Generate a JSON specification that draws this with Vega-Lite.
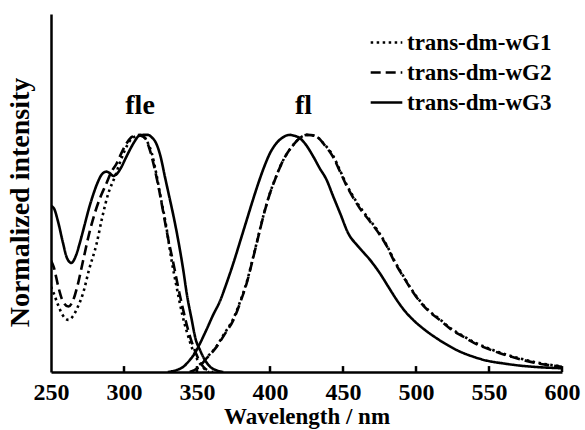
{
  "$schema": "https://vega.github.io/schema/vega-lite/v6.json",
  "width": 511,
  "height": 358,
  "autosize": "none",
  "padding": {"left": 51, "top": 14, "right": 23, "bottom": 58},
  "background": "white",
  "config": {
    "view": {"stroke": null},
    "font": "Liberation Serif",
    "axis": {"domainColor": "black", "domainWidth": 2.5, "tickColor": "black", "tickWidth": 2.5, "grid": false, "labelColor": "black", "titleColor": "black", "labelFont": "Liberation Serif", "titleFont": "Liberation Serif", "labelFontWeight": "bold", "titleFontWeight": "bold"}
  },
  "datasets": {
    "curves": [
      {"series": "trans-dm-wG1", "band": "fle", "wl": 250, "v": 0.36},
      {"series": "trans-dm-wG1", "band": "fle", "wl": 252, "v": 0.33},
      {"series": "trans-dm-wG1", "band": "fle", "wl": 255, "v": 0.28},
      {"series": "trans-dm-wG1", "band": "fle", "wl": 258, "v": 0.24},
      {"series": "trans-dm-wG1", "band": "fle", "wl": 262, "v": 0.22},
      {"series": "trans-dm-wG1", "band": "fle", "wl": 265, "v": 0.235},
      {"series": "trans-dm-wG1", "band": "fle", "wl": 268, "v": 0.27},
      {"series": "trans-dm-wG1", "band": "fle", "wl": 272, "v": 0.333},
      {"series": "trans-dm-wG1", "band": "fle", "wl": 276, "v": 0.43},
      {"series": "trans-dm-wG1", "band": "fle", "wl": 281.3, "v": 0.543},
      {"series": "trans-dm-wG1", "band": "fle", "wl": 285, "v": 0.65},
      {"series": "trans-dm-wG1", "band": "fle", "wl": 289.3, "v": 0.754},
      {"series": "trans-dm-wG1", "band": "fle", "wl": 293.8, "v": 0.824},
      {"series": "trans-dm-wG1", "band": "fle", "wl": 297, "v": 0.88},
      {"series": "trans-dm-wG1", "band": "fle", "wl": 300.7, "v": 0.937},
      {"series": "trans-dm-wG1", "band": "fle", "wl": 304, "v": 0.975},
      {"series": "trans-dm-wG1", "band": "fle", "wl": 307.5, "v": 0.993},
      {"series": "trans-dm-wG1", "band": "fle", "wl": 311, "v": 1.0},
      {"series": "trans-dm-wG1", "band": "fle", "wl": 313, "v": 0.995},
      {"series": "trans-dm-wG1", "band": "fle", "wl": 316, "v": 0.97},
      {"series": "trans-dm-wG1", "band": "fle", "wl": 319, "v": 0.923},
      {"series": "trans-dm-wG1", "band": "fle", "wl": 322, "v": 0.84},
      {"series": "trans-dm-wG1", "band": "fle", "wl": 325, "v": 0.74},
      {"series": "trans-dm-wG1", "band": "fle", "wl": 328.5, "v": 0.63},
      {"series": "trans-dm-wG1", "band": "fle", "wl": 332.6, "v": 0.47},
      {"series": "trans-dm-wG1", "band": "fle", "wl": 336, "v": 0.36},
      {"series": "trans-dm-wG1", "band": "fle", "wl": 340, "v": 0.24},
      {"series": "trans-dm-wG1", "band": "fle", "wl": 343.5, "v": 0.16},
      {"series": "trans-dm-wG1", "band": "fle", "wl": 347, "v": 0.095},
      {"series": "trans-dm-wG1", "band": "fle", "wl": 350.5, "v": 0.05},
      {"series": "trans-dm-wG1", "band": "fle", "wl": 354, "v": 0.02},
      {"series": "trans-dm-wG1", "band": "fle", "wl": 358, "v": 0.0},

      {"series": "trans-dm-wG1", "band": "fl", "wl": 346, "v": 0.0},
      {"series": "trans-dm-wG1", "band": "fl", "wl": 351, "v": 0.02},
      {"series": "trans-dm-wG1", "band": "fl", "wl": 356.6, "v": 0.06},
      {"series": "trans-dm-wG1", "band": "fl", "wl": 363.5, "v": 0.11},
      {"series": "trans-dm-wG1", "band": "fl", "wl": 369, "v": 0.165},
      {"series": "trans-dm-wG1", "band": "fl", "wl": 374.9, "v": 0.225},
      {"series": "trans-dm-wG1", "band": "fl", "wl": 380, "v": 0.305},
      {"series": "trans-dm-wG1", "band": "fl", "wl": 384, "v": 0.378},
      {"series": "trans-dm-wG1", "band": "fl", "wl": 388, "v": 0.473},
      {"series": "trans-dm-wG1", "band": "fl", "wl": 392, "v": 0.573},
      {"series": "trans-dm-wG1", "band": "fl", "wl": 396, "v": 0.672},
      {"series": "trans-dm-wG1", "band": "fl", "wl": 400, "v": 0.755},
      {"series": "trans-dm-wG1", "band": "fl", "wl": 404, "v": 0.822},
      {"series": "trans-dm-wG1", "band": "fl", "wl": 408, "v": 0.88},
      {"series": "trans-dm-wG1", "band": "fl", "wl": 412, "v": 0.925},
      {"series": "trans-dm-wG1", "band": "fl", "wl": 416, "v": 0.958},
      {"series": "trans-dm-wG1", "band": "fl", "wl": 420, "v": 0.985},
      {"series": "trans-dm-wG1", "band": "fl", "wl": 425, "v": 1.0},
      {"series": "trans-dm-wG1", "band": "fl", "wl": 428, "v": 0.999},
      {"series": "trans-dm-wG1", "band": "fl", "wl": 432, "v": 0.992},
      {"series": "trans-dm-wG1", "band": "fl", "wl": 437, "v": 0.962},
      {"series": "trans-dm-wG1", "band": "fl", "wl": 443.4, "v": 0.91},
      {"series": "trans-dm-wG1", "band": "fl", "wl": 448, "v": 0.85},
      {"series": "trans-dm-wG1", "band": "fl", "wl": 452.5, "v": 0.79},
      {"series": "trans-dm-wG1", "band": "fl", "wl": 457, "v": 0.74},
      {"series": "trans-dm-wG1", "band": "fl", "wl": 461.6, "v": 0.696},
      {"series": "trans-dm-wG1", "band": "fl", "wl": 468.5, "v": 0.64},
      {"series": "trans-dm-wG1", "band": "fl", "wl": 475.3, "v": 0.582},
      {"series": "trans-dm-wG1", "band": "fl", "wl": 479.9, "v": 0.535},
      {"series": "trans-dm-wG1", "band": "fl", "wl": 485, "v": 0.472},
      {"series": "trans-dm-wG1", "band": "fl", "wl": 491.3, "v": 0.405},
      {"series": "trans-dm-wG1", "band": "fl", "wl": 497, "v": 0.348},
      {"series": "trans-dm-wG1", "band": "fl", "wl": 502.7, "v": 0.3},
      {"series": "trans-dm-wG1", "band": "fl", "wl": 509, "v": 0.258},
      {"series": "trans-dm-wG1", "band": "fl", "wl": 516.4, "v": 0.222},
      {"series": "trans-dm-wG1", "band": "fl", "wl": 524, "v": 0.183},
      {"series": "trans-dm-wG1", "band": "fl", "wl": 532.4, "v": 0.152},
      {"series": "trans-dm-wG1", "band": "fl", "wl": 540, "v": 0.125},
      {"series": "trans-dm-wG1", "band": "fl", "wl": 548.4, "v": 0.103},
      {"series": "trans-dm-wG1", "band": "fl", "wl": 557, "v": 0.083},
      {"series": "trans-dm-wG1", "band": "fl", "wl": 566.6, "v": 0.065},
      {"series": "trans-dm-wG1", "band": "fl", "wl": 575, "v": 0.051},
      {"series": "trans-dm-wG1", "band": "fl", "wl": 582.7, "v": 0.04},
      {"series": "trans-dm-wG1", "band": "fl", "wl": 591, "v": 0.031},
      {"series": "trans-dm-wG1", "band": "fl", "wl": 600, "v": 0.024},

      {"series": "trans-dm-wG2", "band": "fle", "wl": 250, "v": 0.47},
      {"series": "trans-dm-wG2", "band": "fle", "wl": 252, "v": 0.44},
      {"series": "trans-dm-wG2", "band": "fle", "wl": 255, "v": 0.36},
      {"series": "trans-dm-wG2", "band": "fle", "wl": 258, "v": 0.3},
      {"series": "trans-dm-wG2", "band": "fle", "wl": 262, "v": 0.276},
      {"series": "trans-dm-wG2", "band": "fle", "wl": 265, "v": 0.3},
      {"series": "trans-dm-wG2", "band": "fle", "wl": 268, "v": 0.36},
      {"series": "trans-dm-wG2", "band": "fle", "wl": 272, "v": 0.47},
      {"series": "trans-dm-wG2", "band": "fle", "wl": 276, "v": 0.58},
      {"series": "trans-dm-wG2", "band": "fle", "wl": 280, "v": 0.67},
      {"series": "trans-dm-wG2", "band": "fle", "wl": 284, "v": 0.74},
      {"series": "trans-dm-wG2", "band": "fle", "wl": 288, "v": 0.796},
      {"series": "trans-dm-wG2", "band": "fle", "wl": 291, "v": 0.84},
      {"series": "trans-dm-wG2", "band": "fle", "wl": 295, "v": 0.88},
      {"series": "trans-dm-wG2", "band": "fle", "wl": 298, "v": 0.92},
      {"series": "trans-dm-wG2", "band": "fle", "wl": 301.8, "v": 0.965},
      {"series": "trans-dm-wG2", "band": "fle", "wl": 305, "v": 0.99},
      {"series": "trans-dm-wG2", "band": "fle", "wl": 308.7, "v": 1.0},
      {"series": "trans-dm-wG2", "band": "fle", "wl": 311, "v": 0.998},
      {"series": "trans-dm-wG2", "band": "fle", "wl": 314.4, "v": 0.987},
      {"series": "trans-dm-wG2", "band": "fle", "wl": 317, "v": 0.95},
      {"series": "trans-dm-wG2", "band": "fle", "wl": 321.2, "v": 0.852},
      {"series": "trans-dm-wG2", "band": "fle", "wl": 324, "v": 0.77},
      {"series": "trans-dm-wG2", "band": "fle", "wl": 327, "v": 0.67},
      {"series": "trans-dm-wG2", "band": "fle", "wl": 330, "v": 0.57},
      {"series": "trans-dm-wG2", "band": "fle", "wl": 333.8, "v": 0.459},
      {"series": "trans-dm-wG2", "band": "fle", "wl": 337, "v": 0.36},
      {"series": "trans-dm-wG2", "band": "fle", "wl": 340.6, "v": 0.26},
      {"series": "trans-dm-wG2", "band": "fle", "wl": 344, "v": 0.175},
      {"series": "trans-dm-wG2", "band": "fle", "wl": 347.5, "v": 0.107},
      {"series": "trans-dm-wG2", "band": "fle", "wl": 351, "v": 0.055},
      {"series": "trans-dm-wG2", "band": "fle", "wl": 354.3, "v": 0.022},
      {"series": "trans-dm-wG2", "band": "fle", "wl": 357, "v": 0.008},
      {"series": "trans-dm-wG2", "band": "fle", "wl": 361, "v": 0.0},

      {"series": "trans-dm-wG2", "band": "fl", "wl": 345, "v": 0.0},
      {"series": "trans-dm-wG2", "band": "fl", "wl": 350, "v": 0.015},
      {"series": "trans-dm-wG2", "band": "fl", "wl": 356.6, "v": 0.058},
      {"series": "trans-dm-wG2", "band": "fl", "wl": 363.5, "v": 0.107},
      {"series": "trans-dm-wG2", "band": "fl", "wl": 369, "v": 0.16},
      {"series": "trans-dm-wG2", "band": "fl", "wl": 374.9, "v": 0.219},
      {"series": "trans-dm-wG2", "band": "fl", "wl": 380, "v": 0.3},
      {"series": "trans-dm-wG2", "band": "fl", "wl": 384, "v": 0.374},
      {"series": "trans-dm-wG2", "band": "fl", "wl": 388, "v": 0.47},
      {"series": "trans-dm-wG2", "band": "fl", "wl": 392, "v": 0.571},
      {"series": "trans-dm-wG2", "band": "fl", "wl": 396, "v": 0.67},
      {"series": "trans-dm-wG2", "band": "fl", "wl": 400, "v": 0.754},
      {"series": "trans-dm-wG2", "band": "fl", "wl": 404, "v": 0.82},
      {"series": "trans-dm-wG2", "band": "fl", "wl": 408, "v": 0.88},
      {"series": "trans-dm-wG2", "band": "fl", "wl": 412, "v": 0.925},
      {"series": "trans-dm-wG2", "band": "fl", "wl": 416, "v": 0.958},
      {"series": "trans-dm-wG2", "band": "fl", "wl": 420, "v": 0.985},
      {"series": "trans-dm-wG2", "band": "fl", "wl": 425.1, "v": 1.0},
      {"series": "trans-dm-wG2", "band": "fl", "wl": 428, "v": 0.999},
      {"series": "trans-dm-wG2", "band": "fl", "wl": 432, "v": 0.993},
      {"series": "trans-dm-wG2", "band": "fl", "wl": 437, "v": 0.96},
      {"series": "trans-dm-wG2", "band": "fl", "wl": 443.4, "v": 0.905},
      {"series": "trans-dm-wG2", "band": "fl", "wl": 448, "v": 0.845},
      {"series": "trans-dm-wG2", "band": "fl", "wl": 452.5, "v": 0.785},
      {"series": "trans-dm-wG2", "band": "fl", "wl": 457, "v": 0.735},
      {"series": "trans-dm-wG2", "band": "fl", "wl": 461.6, "v": 0.69},
      {"series": "trans-dm-wG2", "band": "fl", "wl": 468.5, "v": 0.635},
      {"series": "trans-dm-wG2", "band": "fl", "wl": 475.3, "v": 0.578},
      {"series": "trans-dm-wG2", "band": "fl", "wl": 479.9, "v": 0.532},
      {"series": "trans-dm-wG2", "band": "fl", "wl": 485, "v": 0.468},
      {"series": "trans-dm-wG2", "band": "fl", "wl": 491.3, "v": 0.402},
      {"series": "trans-dm-wG2", "band": "fl", "wl": 497, "v": 0.345},
      {"series": "trans-dm-wG2", "band": "fl", "wl": 502.7, "v": 0.297},
      {"series": "trans-dm-wG2", "band": "fl", "wl": 509, "v": 0.255},
      {"series": "trans-dm-wG2", "band": "fl", "wl": 516.4, "v": 0.219},
      {"series": "trans-dm-wG2", "band": "fl", "wl": 524, "v": 0.18},
      {"series": "trans-dm-wG2", "band": "fl", "wl": 532.4, "v": 0.149},
      {"series": "trans-dm-wG2", "band": "fl", "wl": 540, "v": 0.122},
      {"series": "trans-dm-wG2", "band": "fl", "wl": 548.4, "v": 0.1},
      {"series": "trans-dm-wG2", "band": "fl", "wl": 557, "v": 0.08},
      {"series": "trans-dm-wG2", "band": "fl", "wl": 566.6, "v": 0.062},
      {"series": "trans-dm-wG2", "band": "fl", "wl": 575, "v": 0.048},
      {"series": "trans-dm-wG2", "band": "fl", "wl": 582.7, "v": 0.037},
      {"series": "trans-dm-wG2", "band": "fl", "wl": 591, "v": 0.029},
      {"series": "trans-dm-wG2", "band": "fl", "wl": 600, "v": 0.022},

      {"series": "trans-dm-wG3", "band": "fle", "wl": 250, "v": 0.7},
      {"series": "trans-dm-wG3", "band": "fle", "wl": 252, "v": 0.69},
      {"series": "trans-dm-wG3", "band": "fle", "wl": 255, "v": 0.63},
      {"series": "trans-dm-wG3", "band": "fle", "wl": 258, "v": 0.55},
      {"series": "trans-dm-wG3", "band": "fle", "wl": 261, "v": 0.48},
      {"series": "trans-dm-wG3", "band": "fle", "wl": 264, "v": 0.46},
      {"series": "trans-dm-wG3", "band": "fle", "wl": 267, "v": 0.49},
      {"series": "trans-dm-wG3", "band": "fle", "wl": 270, "v": 0.55},
      {"series": "trans-dm-wG3", "band": "fle", "wl": 273, "v": 0.62},
      {"series": "trans-dm-wG3", "band": "fle", "wl": 276, "v": 0.69},
      {"series": "trans-dm-wG3", "band": "fle", "wl": 279, "v": 0.75},
      {"series": "trans-dm-wG3", "band": "fle", "wl": 282, "v": 0.8},
      {"series": "trans-dm-wG3", "band": "fle", "wl": 285, "v": 0.835},
      {"series": "trans-dm-wG3", "band": "fle", "wl": 288, "v": 0.845},
      {"series": "trans-dm-wG3", "band": "fle", "wl": 290, "v": 0.84},
      {"series": "trans-dm-wG3", "band": "fle", "wl": 292.7, "v": 0.827},
      {"series": "trans-dm-wG3", "band": "fle", "wl": 295, "v": 0.835},
      {"series": "trans-dm-wG3", "band": "fle", "wl": 298, "v": 0.862},
      {"series": "trans-dm-wG3", "band": "fle", "wl": 301, "v": 0.9},
      {"series": "trans-dm-wG3", "band": "fle", "wl": 304, "v": 0.937},
      {"series": "trans-dm-wG3", "band": "fle", "wl": 307, "v": 0.97},
      {"series": "trans-dm-wG3", "band": "fle", "wl": 310, "v": 0.995},
      {"series": "trans-dm-wG3", "band": "fle", "wl": 313, "v": 1.0},
      {"series": "trans-dm-wG3", "band": "fle", "wl": 316.6, "v": 1.0},
      {"series": "trans-dm-wG3", "band": "fle", "wl": 319, "v": 0.99},
      {"series": "trans-dm-wG3", "band": "fle", "wl": 322, "v": 0.965},
      {"series": "trans-dm-wG3", "band": "fle", "wl": 325, "v": 0.91},
      {"series": "trans-dm-wG3", "band": "fle", "wl": 328, "v": 0.824},
      {"series": "trans-dm-wG3", "band": "fle", "wl": 331, "v": 0.74},
      {"series": "trans-dm-wG3", "band": "fle", "wl": 334, "v": 0.655},
      {"series": "trans-dm-wG3", "band": "fle", "wl": 337, "v": 0.56},
      {"series": "trans-dm-wG3", "band": "fle", "wl": 340.6, "v": 0.43},
      {"series": "trans-dm-wG3", "band": "fle", "wl": 343, "v": 0.33},
      {"series": "trans-dm-wG3", "band": "fle", "wl": 346.4, "v": 0.22},
      {"series": "trans-dm-wG3", "band": "fle", "wl": 349, "v": 0.14},
      {"series": "trans-dm-wG3", "band": "fle", "wl": 352, "v": 0.093},
      {"series": "trans-dm-wG3", "band": "fle", "wl": 355, "v": 0.055},
      {"series": "trans-dm-wG3", "band": "fle", "wl": 359, "v": 0.022},
      {"series": "trans-dm-wG3", "band": "fle", "wl": 363, "v": 0.008},
      {"series": "trans-dm-wG3", "band": "fle", "wl": 368, "v": 0.0},

      {"series": "trans-dm-wG3", "band": "fl", "wl": 330, "v": 0.0},
      {"series": "trans-dm-wG3", "band": "fl", "wl": 336, "v": 0.008},
      {"series": "trans-dm-wG3", "band": "fl", "wl": 340.6, "v": 0.022},
      {"series": "trans-dm-wG3", "band": "fl", "wl": 345, "v": 0.05},
      {"series": "trans-dm-wG3", "band": "fl", "wl": 348.6, "v": 0.08},
      {"series": "trans-dm-wG3", "band": "fl", "wl": 352, "v": 0.12},
      {"series": "trans-dm-wG3", "band": "fl", "wl": 356.6, "v": 0.18},
      {"series": "trans-dm-wG3", "band": "fl", "wl": 361, "v": 0.24},
      {"series": "trans-dm-wG3", "band": "fl", "wl": 365.8, "v": 0.3},
      {"series": "trans-dm-wG3", "band": "fl", "wl": 370, "v": 0.37},
      {"series": "trans-dm-wG3", "band": "fl", "wl": 374.9, "v": 0.459},
      {"series": "trans-dm-wG3", "band": "fl", "wl": 380, "v": 0.56},
      {"series": "trans-dm-wG3", "band": "fl", "wl": 384, "v": 0.64},
      {"series": "trans-dm-wG3", "band": "fl", "wl": 388, "v": 0.72},
      {"series": "trans-dm-wG3", "band": "fl", "wl": 392, "v": 0.796},
      {"series": "trans-dm-wG3", "band": "fl", "wl": 396, "v": 0.865},
      {"series": "trans-dm-wG3", "band": "fl", "wl": 400, "v": 0.923},
      {"series": "trans-dm-wG3", "band": "fl", "wl": 404, "v": 0.962},
      {"series": "trans-dm-wG3", "band": "fl", "wl": 408, "v": 0.986},
      {"series": "trans-dm-wG3", "band": "fl", "wl": 411, "v": 0.997},
      {"series": "trans-dm-wG3", "band": "fl", "wl": 413.7, "v": 1.0},
      {"series": "trans-dm-wG3", "band": "fl", "wl": 417, "v": 0.996},
      {"series": "trans-dm-wG3", "band": "fl", "wl": 420.5, "v": 0.986},
      {"series": "trans-dm-wG3", "band": "fl", "wl": 425, "v": 0.955},
      {"series": "trans-dm-wG3", "band": "fl", "wl": 429.7, "v": 0.908},
      {"series": "trans-dm-wG3", "band": "fl", "wl": 434, "v": 0.86},
      {"series": "trans-dm-wG3", "band": "fl", "wl": 438.8, "v": 0.81},
      {"series": "trans-dm-wG3", "band": "fl", "wl": 443, "v": 0.745},
      {"series": "trans-dm-wG3", "band": "fl", "wl": 448, "v": 0.67},
      {"series": "trans-dm-wG3", "band": "fl", "wl": 453.6, "v": 0.585},
      {"series": "trans-dm-wG3", "band": "fl", "wl": 460.5, "v": 0.529},
      {"series": "trans-dm-wG3", "band": "fl", "wl": 468.5, "v": 0.473},
      {"series": "trans-dm-wG3", "band": "fl", "wl": 475.3, "v": 0.416},
      {"series": "trans-dm-wG3", "band": "fl", "wl": 481, "v": 0.36},
      {"series": "trans-dm-wG3", "band": "fl", "wl": 486.8, "v": 0.304},
      {"series": "trans-dm-wG3", "band": "fl", "wl": 492, "v": 0.26},
      {"series": "trans-dm-wG3", "band": "fl", "wl": 498.2, "v": 0.219},
      {"series": "trans-dm-wG3", "band": "fl", "wl": 506, "v": 0.178},
      {"series": "trans-dm-wG3", "band": "fl", "wl": 514.2, "v": 0.142},
      {"series": "trans-dm-wG3", "band": "fl", "wl": 522, "v": 0.112},
      {"series": "trans-dm-wG3", "band": "fl", "wl": 530.1, "v": 0.086},
      {"series": "trans-dm-wG3", "band": "fl", "wl": 539, "v": 0.065},
      {"series": "trans-dm-wG3", "band": "fl", "wl": 548.4, "v": 0.048},
      {"series": "trans-dm-wG3", "band": "fl", "wl": 560, "v": 0.036},
      {"series": "trans-dm-wG3", "band": "fl", "wl": 571.2, "v": 0.027},
      {"series": "trans-dm-wG3", "band": "fl", "wl": 585, "v": 0.02},
      {"series": "trans-dm-wG3", "band": "fl", "wl": 600, "v": 0.016}
    ],
    "labels": [
      {"label": "fle", "wl": 311, "v": 1.09},
      {"label": "fl", "wl": 423, "v": 1.09}
    ],
    "ticks": [
      {"wl": 300}, {"wl": 350}, {"wl": 400}, {"wl": 450}, {"wl": 500}, {"wl": 550}, {"wl": 600}
    ]
  },
  "layer": [
    {
      "data": {"name": "curves"},
      "mark": {"type": "line", "interpolate": "monotone", "strokeWidth": 2.6, "color": "black", "clip": true},
      "encoding": {
        "x": {"field": "wl", "type": "quantitative", "scale": {"domain": [250, 600], "nice": false}, "axis": {"title": "Wavelength / nm", "values": [250, 300, 350, 400, 450, 500, 550, 600], "ticks": false, "labelPadding": 8, "labelFontSize": 24, "titleFontSize": 23, "titlePadding": 1, "labelFlush": false}},
        "y": {"field": "v", "type": "quantitative", "scale": {"domain": [0, 1.51], "nice": false}, "axis": {"title": "Normalized intensity", "labels": false, "ticks": false, "titleFontSize": 28, "titlePadding": 17, "titleY": 188}},
        "strokeDash": {"field": "series", "type": "nominal", "scale": {"domain": ["trans-dm-wG1", "trans-dm-wG2", "trans-dm-wG3"], "range": [[2.5, 3.5], [10, 5], [1, 0]]}, "legend": {"title": null, "orient": "none", "legendX": 318, "legendY": 11, "symbolType": "stroke", "symbolSize": 1000, "symbolStrokeWidth": 2.6, "symbolStrokeColor": "black", "labelFontSize": 23, "labelFontWeight": "bold", "labelFont": "Liberation Serif", "labelColor": "black", "rowPadding": 0, "labelOffset": 3}},
        "detail": {"field": "band"}
      }
    },
    {
      "data": {"name": "ticks"},
      "mark": {"type": "rule", "color": "black", "strokeWidth": 2.5},
      "encoding": {
        "x": {"field": "wl", "type": "quantitative"},
        "y": {"datum": 0},
        "y2": {"datum": 0.025}
      }
    },
    {
      "data": {"name": "labels"},
      "mark": {"type": "text", "font": "Liberation Serif", "fontWeight": "bold", "fontSize": 28, "baseline": "alphabetic", "align": "center", "color": "black"},
      "encoding": {
        "x": {"field": "wl", "type": "quantitative"},
        "y": {"field": "v", "type": "quantitative"},
        "text": {"field": "label"}
      }
    }
  ]
}
